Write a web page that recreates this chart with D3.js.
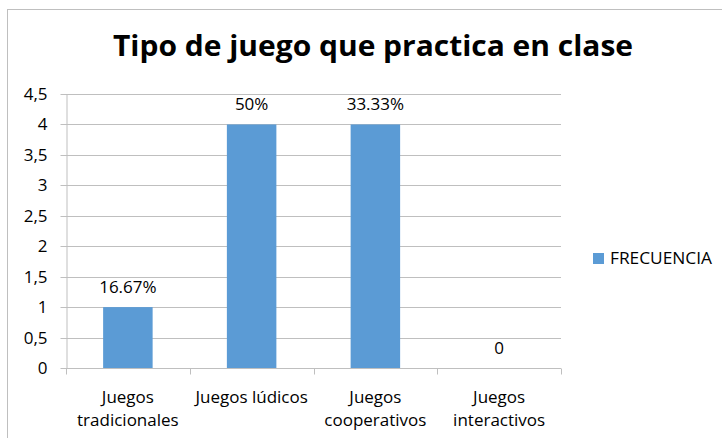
<!DOCTYPE html>
<html><head><meta charset="utf-8">
<script src="https://cdn.jsdelivr.net/npm/d3@7"></script>
<style>body{margin:0;background:#fff}svg{display:block}text{font-family:"Open Sans","Noto Sans",sans-serif;fill:#000}</style>
</head><body>
<svg id="c" width="722" height="438"></svg>
<script>
const categories = [["Juegos","tradicionales"],["Juegos lúdicos"],["Juegos","cooperativos"],["Juegos","interactivos"]];
const frecuencia = [1, 4, 4, 0];
const dataLabels = ["16.67%", "50%", "33.33%", "0"];
const yTicks = [0, 0.5, 1, 1.5, 2, 2.5, 3, 3.5, 4, 4.5];
const seriesName = "FRECUENCIA";
const title = "Tipo de juego que practica en clase";

const svg = d3.select("#c");
svg.append("rect").attr("x",7.5).attr("y",9.5).attr("width",730).attr("height",440)
  .attr("fill","#fff").attr("stroke","#bfbfbf");

const x = d3.scaleBand().domain(d3.range(categories.length)).range([66, 561]).padding(0);
const y = d3.scaleLinear().domain([0, 4.5]).range([368, 94]);
const fmt = v => String(v).replace(".", ",");

// gridlines
svg.append("g").selectAll("line").data(yTicks.filter(t=>t>0)).join("line")
  .attr("x1",66).attr("x2",561).attr("y1",d=>Math.round(y(d))+0.5).attr("y2",d=>Math.round(y(d))+0.5)
  .attr("stroke","#bfbfbf");

// y axis
const ya = svg.append("g").attr("transform","translate(66.5,0)")
  .call(d3.axisLeft(y).tickValues(yTicks).tickFormat(fmt).tickSize(6).tickSizeOuter(0));
ya.select(".domain").attr("stroke","#bfbfbf");
ya.selectAll(".tick line").attr("stroke","#bfbfbf");
ya.selectAll(".tick").attr("transform",d=>`translate(0,${Math.round(y(d))+0.5})`);
ya.selectAll(".tick text").attr("x",-19).style("font-size","17px").attr("fill","#000").attr("dy","0.35em");

// x axis
const xa = svg.append("g").attr("transform","translate(0,368.5)");
xa.append("line").attr("x1",66).attr("x2",561).attr("stroke","#bfbfbf");
const bounds = d3.range(categories.length+1).map(i => i < categories.length ? x(i) : x(i-1)+x.bandwidth());
xa.selectAll("line.t").data(bounds).join("line").attr("class","t")
  .attr("x1",d=>Math.round(d)+0.5).attr("x2",d=>Math.round(d)+0.5).attr("y1",0).attr("y2",6).attr("stroke","#bfbfbf");
categories.forEach((lines,i)=>{
  const t = xa.append("text").attr("text-anchor","middle").attr("x",x(i)+x.bandwidth()/2).attr("y",34)
    .style("font-size","17px");
  lines.forEach((l,j)=>t.append("tspan").attr("x",x(i)+x.bandwidth()/2).attr("dy", j===0?0:23).text(l));
});

// bars
const bw = x.bandwidth()*0.4;
svg.append("g").selectAll("rect").data(frecuencia).join("rect")
  .attr("x",(d,i)=>x(i)+x.bandwidth()/2-bw/2).attr("width",bw)
  .attr("y",d=>y(d)).attr("height",d=>y(0)-y(d)).attr("fill","#5b9bd5");

// data labels
svg.append("g").selectAll("text").data(frecuencia).join("text")
  .attr("text-anchor","middle").attr("x",(d,i)=>x(i)+x.bandwidth()/2).attr("y",d=>y(d)-14)
  .style("font-size","17px").text((d,i)=>dataLabels[i]);

// title
svg.append("text").attr("x",373).attr("y",56).attr("text-anchor","middle")
  .style("font-size","29px").style("font-weight","bold").attr("textLength",520).attr("lengthAdjust","spacingAndGlyphs").text(title);

// legend
svg.append("rect").attr("x",593).attr("y",253).attr("width",11).attr("height",11).attr("fill","#5b9bd5");
svg.append("text").attr("x",610).attr("y",264).style("font-size","16px").attr("textLength",102).attr("lengthAdjust","spacingAndGlyphs").text(seriesName);
</script>
</body></html>
